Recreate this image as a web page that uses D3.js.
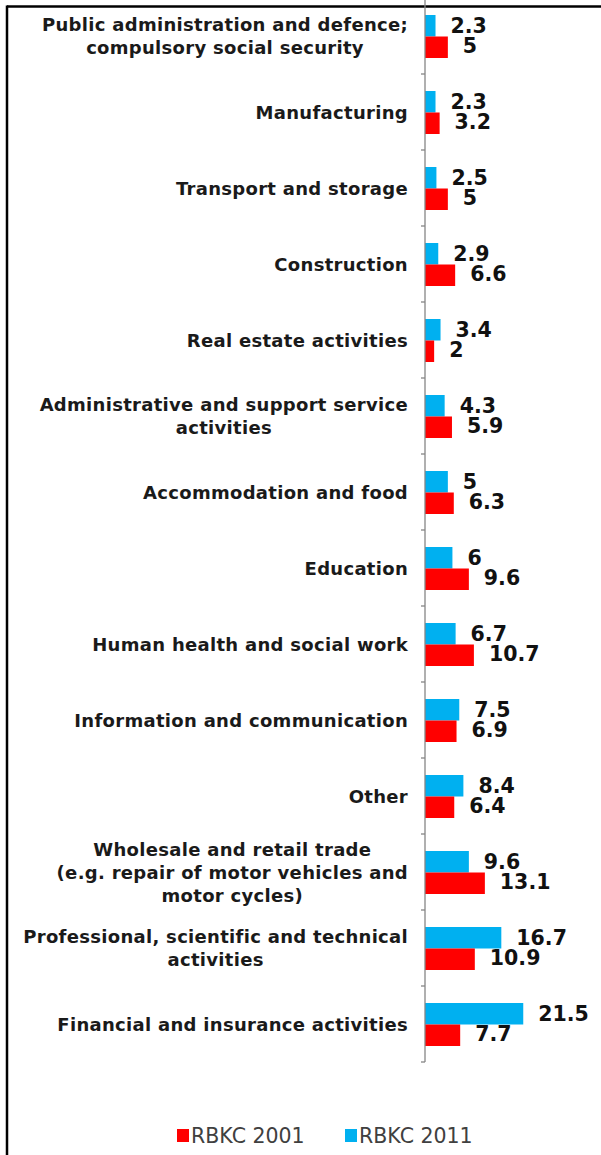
<html>
<head>
<style>
body{margin:0;background:#fff;}
svg{display:block;}
</style>
</head>
<body>
<svg id="chart" width="601" height="1155"></svg>
<script src="https://cdn.jsdelivr.net/npm/d3@7"></script>
<script>
// sectors, top to bottom ("\n" = line break in the label)
var categories = [
  "Public administration and defence;\ncompulsory social security",
  "Manufacturing",
  "Transport and storage",
  "Construction",
  "Real estate activities",
  "Administrative and support service\nactivities",
  "Accommodation and food",
  "Education",
  "Human health and social work",
  "Information and communication",
  "Other",
  "Wholesale and retail trade\n(e.g. repair of motor vehicles and\nmotor cycles)",
  "Professional, scientific and technical\nactivities",
  "Financial and insurance activities"
];
var rbkc2011 = [2.3, 2.3, 2.5, 2.9, 3.4, 4.3, 5, 6, 6.7, 7.5, 8.4, 9.6, 16.7, 21.5];
var rbkc2001 = [5, 3.2, 5, 6.6, 2, 5.9, 6.3, 9.6, 10.7, 6.9, 6.4, 13.1, 10.9, 7.7];
var seriesNames = ["RBKC 2011", "RBKC 2001"];
var colors = {"RBKC 2011":"#00b0f0", "RBKC 2001":"#ff0000"};

var svg = d3.select('#chart');

// frame
svg.append('line').attr('x1',7).attr('x2',601).attr('y1',6.5).attr('y2',6.5)
  .attr('stroke','#000').attr('stroke-width',2.5);
svg.append('line').attr('x1',7).attr('x2',7).attr('y1',5.5).attr('y2',1155)
  .attr('stroke','#000').attr('stroke-width',2.5);

var x = d3.scaleLinear().domain([0,25]).range([425, 425+25*4.57]);
var y = d3.scaleBand().domain(categories).range([-2,1062]);
var ySub = d3.scaleBand().domain(seriesNames).range([17, 60]);
var labelShift = {"RBKC 2011":0.5, "RBKC 2001":-1};

var rows = categories.map(function(c,i){
  return {cat:c, vals:[
    {s:"RBKC 2011", v:rbkc2011[i]},
    {s:"RBKC 2001", v:rbkc2001[i]}
  ]};
});

var g = svg.selectAll('g.row').data(rows).enter().append('g')
  .attr('class','row')
  .attr('transform',function(d){return 'translate(0,'+y(d.cat)+')';});

g.selectAll('rect').data(function(d){return d.vals;}).enter().append('rect')
  .attr('x',x(0))
  .attr('y',function(d){return ySub(d.s);})
  .attr('width',function(d){return x(d.v)-x(0);})
  .attr('height',ySub.bandwidth())
  .attr('fill',function(d){return colors[d.s];});

g.selectAll('text.val').data(function(d){return d.vals;}).enter().append('text')
  .attr('class','val')
  .attr('x',function(d){return x(d.v)+15;})
  .attr('y',function(d){return ySub(d.s)+ySub.bandwidth()/2+labelShift[d.s];})
  .attr('dominant-baseline','central')
  .style('font-family','DejaVu Sans, Verdana, sans-serif')
  .style('font-weight','bold')
  .style('font-size','20.5px')
  .style('fill','#111')
  .text(function(d){return d.v;});

// category labels, lines centred within a right-aligned block
g.each(function(d){
  var lines = d.cat.split('\n');
  var lab = d3.select(this).append('text')
    .style('font-family','DejaVu Sans, Verdana, sans-serif')
    .style('font-weight','bold')
    .style('font-size','18px')
    .style('letter-spacing','0.3px')
    .style('fill','#1a1a1a')
    .attr('text-anchor','middle');
  var lh = 23;
  var y0 = y.bandwidth()/2 - (lines.length-1)*lh/2;
  var spans = lab.selectAll('tspan').data(lines).enter().append('tspan')
    .attr('y',function(l,i){return y0+i*lh;})
    .attr('dominant-baseline','central')
    .text(function(l){return l;});
  var w = 0;
  spans.each(function(){w = Math.max(w,this.getComputedTextLength());});
  spans.attr('x', 408 - w/2);
});

// axis line with ticks at band edges
var axis = svg.append('g');
axis.append('line').attr('x1',x(0)).attr('x2',x(0)).attr('y1',y.range()[0]).attr('y2',y.range()[1])
  .attr('stroke','#868686').attr('stroke-width',1.3);
var edges = categories.map(function(c){return y(c);}).concat([y.range()[1]]);
axis.selectAll('line.tick').data(edges).enter().append('line')
  .attr('class','tick')
  .attr('x1',x(0)-4).attr('x2',x(0))
  .attr('y1',function(d){return d;}).attr('y2',function(d){return d;})
  .attr('stroke','#868686').attr('stroke-width',1.3);

// legend
var legendItems = ["RBKC 2001","RBKC 2011"];
var leg = svg.selectAll('g.leg').data(legendItems).enter().append('g')
  .attr('class','leg')
  .attr('transform',function(d,i){return 'translate('+(177+i*168)+',1129)';});
leg.append('rect').attr('width',12).attr('height',13)
  .attr('fill',function(d){return colors[d];});
leg.append('text').attr('x',14).attr('y',7)
  .attr('dominant-baseline','central')
  .style('font-family','DejaVu Sans, Verdana, sans-serif')
  .style('font-size','20.5px')
  .style('fill','#404040')
  .text(function(d){return d;});
</script>
</body>
</html>
